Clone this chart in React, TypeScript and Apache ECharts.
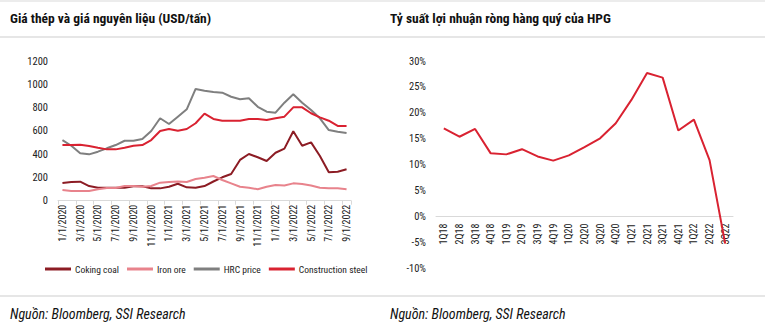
import React, { useEffect, useRef } from "react";
import * as echarts from "echarts";

const months = [
  "1/1/2020","2/1/2020","3/1/2020","4/1/2020","5/1/2020","6/1/2020","7/1/2020","8/1/2020","9/1/2020","10/1/2020","11/1/2020","12/1/2020",
  "1/1/2021","2/1/2021","3/1/2021","4/1/2021","5/1/2021","6/1/2021","7/1/2021","8/1/2021","9/1/2021","10/1/2021","11/1/2021","12/1/2021",
  "1/1/2022","2/1/2022","3/1/2022","4/1/2022","5/1/2022","6/1/2022","7/1/2022","8/1/2022","9/1/2022",
];
const cokingCoal = [152,161,163,126,112,112,112,112,124,124,106,106,120,146,115,112,126,165,201,229,350,401,373,341,412,447,596,472,501,384,244,249,270];
const ironOre = [92,83,83,83,98,109,109,126,126,120,126,155,161,165,161,186,198,212,178,149,120,112,98,120,135,130,149,143,130,112,106,106,98];
const hrcPrice = [521,472,407,398,421,450,478,515,515,530,599,708,659,722,785,960,945,934,928,893,871,880,807,765,756,842,914,842,779,708,607,593,582];
const constructionSteel = [478,478,480,470,455,441,441,455,472,478,521,599,616,601,616,665,748,702,687,687,687,702,702,693,708,722,802,802,751,716,687,642,642];

const quarters = ["1Q18","2Q18","3Q18","4Q18","1Q19","2Q19","3Q19","4Q19","1Q20","2Q20","3Q20","4Q20","1Q21","2Q21","3Q21","4Q21","1Q22","2Q22","3Q22"];
const netMargin = [17.0,15.4,16.9,12.2,12.0,13.0,11.6,10.8,11.8,13.4,15.1,18.0,22.5,27.7,26.8,16.6,18.7,10.9,-5.2];

const FONT = "'Liberation Sans Narrow', 'Arial Narrow', 'Roboto Condensed', 'DejaVu Sans Condensed', sans-serif";

export default function App() {
  const ref = useRef<HTMLDivElement>(null);
  useEffect(() => {
    if (!ref.current) return;
    const chart = echarts.init(ref.current, null, { renderer: "svg" });
    const axisLineStyle = { color: "#d9d9d9", width: 1 };
    const labelBase = { color: "#222", fontFamily: FONT };
    chart.setOption({
      animation: false,
      textStyle: { fontFamily: FONT },
      graphic: [
        { type: "rect", shape: { x: 0, y: 0, width: 765, height: 2 }, style: { fill: "#ececec" } },
        { type: "rect", shape: { x: 0, y: 36, width: 765, height: 2 }, style: { fill: "#e6e6e6" } },
        { type: "rect", shape: { x: 0, y: 295, width: 765, height: 2 }, style: { fill: "#e6e6e6" } },
        { type: "text", x: 10, y: 18, style: { text: "Giá thép và giá nguyên liệu (USD/tấn)", font: `bold 13.5px ${FONT}`, fill: "#111", verticalAlign: "middle" } },
        { type: "text", x: 390, y: 18, style: { text: "Tỷ suất lợi nhuận ròng hàng quý của HPG", font: `bold 13.5px ${FONT}`, fill: "#111", verticalAlign: "middle" } },
        { type: "text", x: 10, y: 314, style: { text: "Nguồn: Bloomberg, SSI Research", font: `italic 14px ${FONT}`, fill: "#111", verticalAlign: "middle" } },
        { type: "text", x: 390, y: 314, style: { text: "Nguồn: Bloomberg, SSI Research", font: `italic 14px ${FONT}`, fill: "#111", verticalAlign: "middle" } },
      ],
      legend: {
        left: 40,
        top: 259,
        itemWidth: 26,
        itemHeight: 3,
        itemGap: 8,
        icon: "rect",
        textStyle: { fontSize: 9.5, color: "#222", fontFamily: FONT, padding: [0, 0, 0, -1] },
        data: ["Coking coal", "Iron ore", "HRC price", "Construction steel"],
      },
      grid: [
        { left: 58, top: 61, width: 293, height: 139.7 },
        { left: 436, top: 61, width: 297, height: 207.5 },
      ],
      xAxis: [
        {
          type: "category",
          gridIndex: 0,
          data: months,
          boundaryGap: true,
          axisLine: { lineStyle: axisLineStyle },
          axisTick: { show: true, interval: 1, length: 4, lineStyle: axisLineStyle },
          axisLabel: { ...labelBase, interval: 1, rotate: 90, fontSize: 10, margin: 4 },
        },
        {
          type: "category",
          gridIndex: 1,
          data: quarters,
          boundaryGap: true,
          position: "bottom",
          offset: -51.9,
          axisLine: { onZero: false, lineStyle: axisLineStyle },
          axisTick: { show: false },
          axisLabel: { ...labelBase, interval: 0, rotate: 90, fontSize: 10, margin: 7 },
        },
      ],
      yAxis: [
        {
          type: "value",
          gridIndex: 0,
          min: 0,
          max: 1200,
          interval: 200,
          splitLine: { show: false },
          axisLine: { show: false },
          axisTick: { show: false },
          axisLabel: { ...labelBase, fontSize: 10.5, margin: 10, formatter: (v: number) => String(v) },
        },
        {
          type: "value",
          gridIndex: 1,
          min: -10,
          max: 30,
          interval: 5,
          splitLine: { show: false },
          axisLine: { show: false },
          axisTick: { show: false },
          axisLabel: { ...labelBase, fontSize: 10.5, margin: 10, formatter: "{value}%" },
        },
      ],
      series: [
        { name: "Coking coal", type: "line", xAxisIndex: 0, yAxisIndex: 0, data: cokingCoal, showSymbol: false, lineStyle: { width: 2, color: "#8c1c24" }, itemStyle: { color: "#8c1c24" } },
        { name: "Iron ore", type: "line", xAxisIndex: 0, yAxisIndex: 0, data: ironOre, showSymbol: false, lineStyle: { width: 2, color: "#e8838c" }, itemStyle: { color: "#e8838c" } },
        { name: "HRC price", type: "line", xAxisIndex: 0, yAxisIndex: 0, data: hrcPrice, showSymbol: false, lineStyle: { width: 2, color: "#7f7f7f" }, itemStyle: { color: "#7f7f7f" } },
        { name: "Construction steel", type: "line", xAxisIndex: 0, yAxisIndex: 0, data: constructionSteel, showSymbol: false, lineStyle: { width: 2, color: "#d92231" }, itemStyle: { color: "#d92231" } },
        { name: "Net margin", type: "line", xAxisIndex: 1, yAxisIndex: 1, data: netMargin, showSymbol: false, lineStyle: { width: 2, color: "#d92231" }, itemStyle: { color: "#d92231" }, z: 5 },
      ],
    });
    return () => chart.dispose();
  }, []);
  return (
    <div
      ref={ref}
      style={{ position: "fixed", left: 0, top: 0, width: 765, height: 335, background: "#fff" }}
    />
  );
}
